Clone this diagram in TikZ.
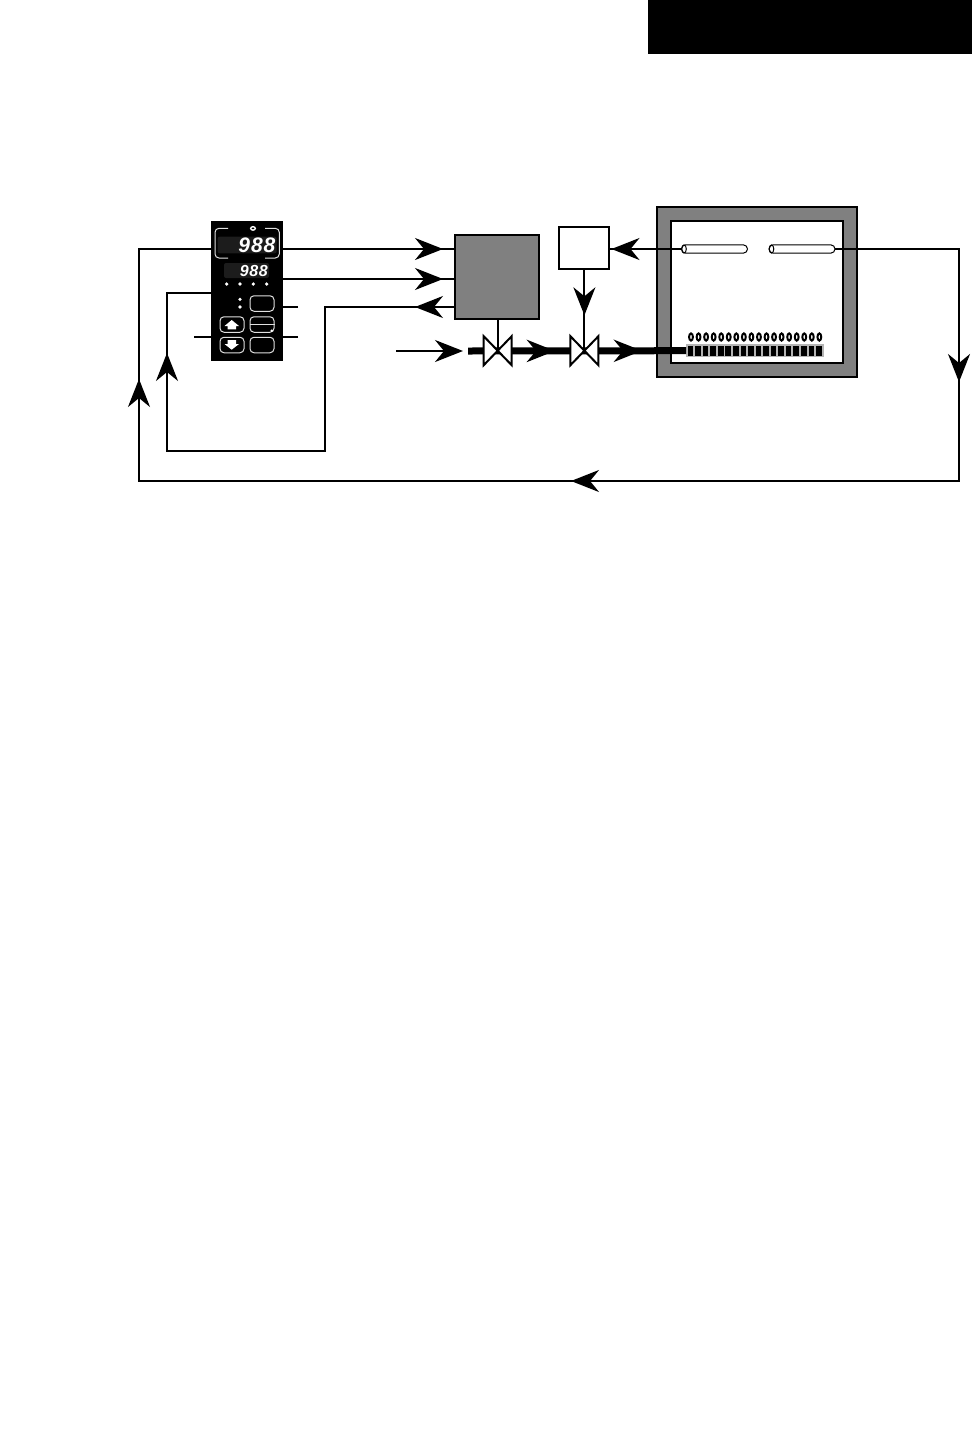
\documentclass[tikz,border=0pt]{standalone}
\usepackage{xcolor}
\usepackage{fontspec}
\usepackage{tikz}
\usetikzlibrary{shapes,shapes.misc,arrows.meta,decorations.markings}
\newfontfamily\ledfont[LetterSpace=4]{Liberation Sans}
\definecolor{wallgray}{HTML}{808080}
\definecolor{bargray}{HTML}{B4B4B4}
\definecolor{leddark}{HTML}{1C1C1C}
\definecolor{keywhite}{HTML}{E0E0E0}

\begin{document}
\begin{tikzpicture}[
    x=1pt, y=-1pt,
    >={Stealth[length=28pt,width=22pt,inset=9pt]},
    box/.style={rectangle, draw, line width=2pt, inner sep=0pt, outer sep=0pt},
    wire/.style={line width=2pt},
    pipe/.style={line width=7pt},
    midhead/.style={postaction={decorate,decoration={markings,mark=at position #1 with {\arrow{>}}}}},
    key/.style={rectangle, draw=keywhite, line width=1pt, rounded corners=4pt, minimum width=24pt, minimum height=15.5pt, inner sep=0pt},
    led/.style={rectangle, fill=leddark, rounded corners=2pt, text=white, inner sep=0pt, align=right},
    probe/.style={rounded rectangle, draw, fill=white, line width=1pt, minimum width=66pt, minimum height=8.3pt, inner sep=0pt, outer sep=0pt},
    valve/.style={draw, fill=white, line width=2pt, line join=miter}
]
    \useasboundingbox (0,0) rectangle (972,1454);

    % header block
    \node[rectangle, fill=black, minimum width=324pt, minimum height=54pt, inner sep=0pt] (header) at (810,27) {};

    % furnace
    \node[box, fill=wallgray, minimum width=200.6pt, minimum height=170pt] (furnace) at (757,291.7) {};
    \node[box, fill=white, minimum width=172.3pt, minimum height=142.3pt] (chamber) at (757.2,292.2) {};
    \node[probe] (probea) at (714.5,249) {};
    \node[probe] (probeb) at (802,249) {};
    \draw[line width=1pt] (684,249) ellipse (2.3 and 4.1);
    \draw[line width=1pt] (771.5,249) ellipse (2.3 and 4.1);
    \node[rectangle, fill=bargray, minimum width=138pt, minimum height=13.3pt, inner sep=0pt, outer sep=0pt] (burner) at (755,350.7) {};
    \foreach \i in {0,...,17} {
        \fill (687.7+\i*7.55,346) rectangle ++(5.6,10);
        \draw[line width=2pt] (691+\i*7.55,337) ellipse (1.9 and 3.6);
    }

    % process blocks
    \node[box, fill=wallgray, minimum width=84pt, minimum height=84pt] (actuator) at (497,276.8) {};
    \node[box, fill=white, minimum width=50.3pt, minimum height=42.6pt] (limiter) at (584.2,248) {};

    % controller
    \node[rectangle, fill=black, minimum width=72pt, minimum height=140.5pt, inner sep=0pt, outer sep=0pt] (ctrl) at (247,291.2) {};
    \node[led, minimum width=59pt, minimum height=16.6pt, text width=56pt] (pvled) at (247.2,245) {\fontsize{21}{21}\ledfont\bfseries\itshape 988};
    \node[led, minimum width=45pt, minimum height=15pt, text width=42.5pt] (svled) at (246.5,270.5) {\fontsize{16}{16}\ledfont\bfseries\itshape 988};
    \draw[keywhite, line width=1pt, rounded corners=4pt] (228,228.3) -- (215,228.3) -- (215,258) -- (228,258);
    \draw[keywhite, line width=1pt, rounded corners=4pt] (265,228.3) -- (279.3,228.3) -- (279.3,258) -- (265,258);
    \draw[white, line width=1.4pt] (253,228.4) ellipse (2.3 and 1.7);
    \foreach \x in {226.7,240,253.3,266.7}
        \fill[white] (\x,284) circle (1.8);
    \foreach \y in {299.3,307}
        \fill[white] (240,\y) circle (1.8);
    \node[key] (keyc) at (262,303.5) {};
    \node[key] (keyd) at (262,324.5) {};
    \node[key] (keye) at (262,345) {};
    \node[key] (keya) at (232,324.5) {};
    \node[key] (keyb) at (232,345) {};
    \draw[keywhite, line width=1pt] (keyd.west) -- (keyd.east);
    \fill[white] (271.7,330.7) circle (1.3);
    \fill[white] (231.7,320) -- (239,326) -- (236,326) -- (236,329.3) -- (227.5,329.3) -- (227.5,326) -- (224.5,326) -- cycle;
    \fill[white] (231.7,349.7) -- (239,344) -- (236,344) -- (236,340) -- (227.5,340) -- (227.5,344) -- (224.5,344) -- cycle;

    \coordinate (gasin) at (396,351);
    \coordinate (gastip) at (463,351);
    \coordinate (pipein) at (468,351);
    \coordinate (valvea) at (497.7,350.7);
    \coordinate (valveb) at (584.4,350.7);

    % gas line
    \draw[wire,->] (gasin) -- (gastip);
    \draw[pipe, midhead=87pt, midhead=174pt] (pipein) -- (burner.west);
    \foreach \v in {valvea,valveb} {
        \draw[valve] (\v) -- ++(-14,-14.5) -- ++(0,29) -- cycle;
        \draw[valve] (\v) -- ++(14,-14.5) -- ++(0,29) -- cycle;
    }
    \draw[wire] (valvea |- actuator.south) -- (valvea);
    \draw[wire, midhead=46pt] (valveb |- limiter.south) -- (valveb);

    % signal wiring
    \coordinate (rowa) at (0,249);
    \coordinate (rowb) at (0,279);
    \coordinate (rowc) at (0,307);
    \coordinate (rowd) at (0,293);
    \coordinate (rowe) at (0,337);
    \coordinate (ret) at (325,451);
    \coordinate (loopa) at (167,451);
    \coordinate (far) at (959,481);
    \coordinate (near) at (139,481);

    \draw[wire, midhead=160pt] (ctrl.east |- rowa) -- (actuator.west |- rowa);
    \draw[wire, midhead=160pt] (ctrl.east |- rowb) -- (actuator.west |- rowb);
    \draw[wire, midhead=40pt, midhead=530pt] (actuator.west |- rowc) -- (ret |- rowc) -- (ret) -- (loopa) -- (loopa |- rowd) -- (ctrl.west |- rowd);
    \draw[wire, midhead=70pt] (probea.west) -- (limiter.east |- probea);
    \draw[wire, midhead=257pt, midhead=744pt, midhead=1278pt] (probeb.east) -- (far |- probeb) -- (far) -- (near) -- (near |- rowa) -- (ctrl.west |- rowa);

    % terminal stubs
    \coordinate (stubc) at (298,307);
    \coordinate (stubd) at (298,337);
    \coordinate (stube) at (194,337);
    \draw[wire] (stubc) -- (ctrl.east |- stubc);
    \draw[wire] (stubd) -- (ctrl.east |- stubd);
    \draw[wire] (stube) -- (ctrl.west |- stube);
\end{tikzpicture}
\end{document}
